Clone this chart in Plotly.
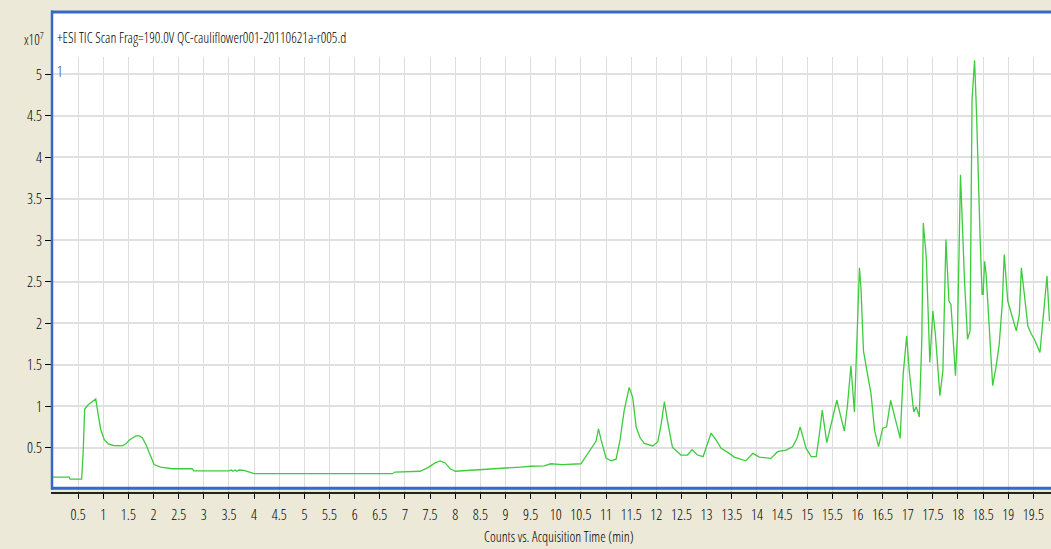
import plotly.graph_objects as go

# ---- data (intensity in units of 1e7 counts) ----
acq_time_min = [
    0.00, 0.32, 0.34, 0.57, 0.60, 0.63, 0.70, 0.78, 0.85, 0.90, 0.95, 1.02, 1.10, 1.20, 1.38,
    1.45, 1.51, 1.58, 1.65, 1.72, 1.78, 1.85, 1.93, 2.01, 2.14, 2.38, 2.77, 2.80, 3.50, 3.55,
    3.58, 3.62, 3.66, 3.70, 3.80, 3.97, 4.00, 6.75, 6.80, 7.30, 7.45, 7.60, 7.70, 7.80, 7.90,
    8.00, 8.30, 8.50, 8.80, 9.00, 9.30, 9.50, 9.77, 9.90, 10.13, 10.50, 10.60, 10.70, 10.80,
    10.85, 10.90, 11.00, 11.10, 11.20, 11.28, 11.36, 11.46, 11.53, 11.60, 11.68, 11.76, 11.93,
    12.03, 12.10, 12.16, 12.22, 12.32, 12.49, 12.62, 12.71, 12.82, 12.93, 13.00, 13.09, 13.19,
    13.29, 13.45, 13.55, 13.78, 13.92, 14.05, 14.28, 14.41, 14.58, 14.71, 14.80, 14.86, 14.93,
    14.98, 15.08, 15.18, 15.24, 15.30, 15.39, 15.48, 15.59, 15.66, 15.74, 15.80, 15.87, 15.94,
    16.04, 16.07, 16.12, 16.20, 16.27, 16.34, 16.42, 16.50, 16.58, 16.66, 16.74, 16.85, 16.91,
    16.98, 17.03, 17.12, 17.17, 17.23, 17.28, 17.31, 17.37, 17.40, 17.44, 17.50, 17.55, 17.64,
    17.70, 17.76, 17.82, 17.86, 17.95, 17.99, 18.05, 18.13, 18.19, 18.24, 18.28, 18.33, 18.37,
    18.44, 18.48, 18.50, 18.53, 18.56, 18.63, 18.69, 18.76, 18.82, 18.88, 18.92, 18.99, 19.09,
    19.16, 19.22, 19.26, 19.32, 19.39, 19.46, 19.52, 19.63, 19.72, 19.77, 19.82,
]
counts_x1e7 = [
    0.15, 0.15, 0.125, 0.125, 0.45, 0.97, 1.02, 1.06, 1.09, 0.90, 0.72, 0.60, 0.55, 0.53, 0.525,
    0.55, 0.59, 0.62, 0.645, 0.645, 0.62, 0.54, 0.42, 0.30, 0.27, 0.25, 0.25, 0.225, 0.225, 0.235,
    0.22, 0.235, 0.22, 0.235, 0.23, 0.19, 0.19, 0.19, 0.21, 0.22, 0.26, 0.32, 0.345, 0.32, 0.25,
    0.22, 0.23, 0.24, 0.25, 0.26, 0.27, 0.28, 0.285, 0.31, 0.30, 0.31, 0.40, 0.50, 0.58,
    0.73, 0.60, 0.38, 0.345, 0.365, 0.60, 0.95, 1.23, 1.11, 0.75, 0.62, 0.555, 0.525,
    0.575, 0.80, 1.06, 0.83, 0.51, 0.415, 0.415, 0.48, 0.415, 0.395, 0.52, 0.68, 0.595,
    0.495, 0.435, 0.39, 0.345, 0.435, 0.39, 0.375, 0.455, 0.475, 0.515, 0.62, 0.755, 0.62,
    0.495, 0.395, 0.395, 0.65, 0.955, 0.565, 0.795, 1.075, 0.90, 0.705, 1.00, 1.49, 0.935,
    2.67, 2.43, 1.67, 1.39, 1.155, 0.716, 0.516, 0.736, 0.755, 1.075, 0.875, 0.616, 1.39,
    1.85, 1.43, 0.935, 0.995, 0.875, 1.79, 3.21, 2.79, 2.11, 1.53, 2.15, 1.87, 1.13,
    1.43, 3.01, 2.27, 2.23, 1.37, 1.87, 3.79, 2.51, 1.81, 1.91, 4.70, 5.17, 4.51,
    3.03, 2.35, 2.35, 2.75, 2.59, 1.79, 1.25, 1.49, 1.75, 2.23, 2.83, 2.27, 2.07,
    1.91, 2.11, 2.67, 2.35, 1.97, 1.87, 1.81, 1.65, 2.19, 2.57, 2.03,
]
x_tick_vals = [i * 0.5 for i in range(1, 40)]
x_tick_text = [("%g" % v) for v in x_tick_vals]
y_tick_vals = [i * 0.5 for i in range(1, 11)]
y_tick_text = [("%g" % v) for v in y_tick_vals]

title_text = "+ESI TIC Scan Frag=190.0V QC-cauliflower001-20110621a-r005.d"
x_title = "Counts vs. Acquisition Time (min)"
scale_text = "x10<sup>7</sup>"

# ---- layout helpers (pixel -> paper) ----
W, H = 1051, 549
ML, MR, MT, MB = 53, 0, 57, 62
PW, PH = W - ML - MR, H - MT - MB


def xp(px):
    return (px - ML) / PW


def yp(py):
    return (H - MB - py) / PH


FONT = "Open Sans Condensed Light, Open Sans Condensed, DejaVu Sans Condensed, sans-serif"
BLUE = "#3768c8"
BEIGE = "#ece9d8"
TXT = "#000000"


def fnt(size, color=TXT):
    return dict(family=FONT, size=size, color=color, weight=300)


fig = go.Figure()
fig.add_trace(go.Scatter(
    x=acq_time_min, y=counts_x1e7, mode="lines",
    line=dict(color="#3ccc3c", width=1.3),
    showlegend=False, hoverinfo="x+y",
))

shapes = [
    dict(type="rect", xref="paper", yref="paper", x0=xp(51), x1=xp(1060), y0=yp(489), y1=yp(11),
         fillcolor="white", line=dict(width=0), layer="below"),
    dict(type="rect", xref="paper", yref="paper", x0=xp(40), x1=xp(1060), y0=yp(491.8), y1=yp(489.5),
         fillcolor=BEIGE, line=dict(width=0), layer="above"),
    dict(type="line", xref="paper", yref="paper", x0=xp(52), x1=xp(52), y0=yp(489.5), y1=yp(10.5),
         line=dict(color=BLUE, width=2.5), layer="above"),
    dict(type="line", xref="paper", yref="paper", x0=xp(51), x1=xp(1060), y0=yp(12), y1=yp(12),
         line=dict(color=BLUE, width=3), layer="above"),
    dict(type="line", xref="paper", yref="paper", x0=xp(51), x1=xp(1060), y0=yp(488.3), y1=yp(488.3),
         line=dict(color=BLUE, width=3), layer="above"),
    dict(type="line", xref="paper", yref="paper", x0=xp(51), x1=xp(1060), y0=yp(493), y1=yp(493),
         line=dict(color="#222222", width=2), layer="above"),
]

annotations = [
    dict(text=scale_text, xref="paper", yref="paper", x=xp(46), y=yp(39), xanchor="right",
         yanchor="middle", showarrow=False, font=fnt(14)),
    dict(text=title_text, xref="paper", yref="paper", x=xp(55), y=yp(38), xanchor="left",
         yanchor="middle", showarrow=False, font=fnt(14)),
    dict(text="1", xref="paper", yref="paper", x=xp(55), y=yp(72), xanchor="left",
         yanchor="middle", showarrow=False, font=fnt(14, "#333333")),
    dict(text=x_title, xref="paper", yref="paper", x=xp(559), y=yp(536), xanchor="center",
         yanchor="middle", showarrow=False, font=fnt(14)),
]

fig.update_layout(
    width=W, height=H,
    margin=dict(l=ML, r=MR, t=MT, b=MB, pad=0),
    paper_bgcolor=BEIGE, plot_bgcolor="white",
    shapes=shapes, annotations=annotations,
    font=fnt(14),
    xaxis=dict(
        range=[0, 19.85], tickmode="array", tickvals=x_tick_vals, ticktext=x_tick_text,
        ticks="outside", ticklen=11, tickwidth=1, tickcolor=TXT, ticklabelstandoff=3,
        showgrid=True, gridcolor="#dddddd", gridwidth=1, zeroline=False, showline=False,
        tickfont=fnt(15), fixedrange=True,
    ),
    yaxis=dict(
        range=[0.03, 5.21], tickmode="array", tickvals=y_tick_vals, ticktext=y_tick_text,
        ticks="outside", ticklen=7, tickwidth=1, tickcolor=TXT,
        showgrid=True, gridcolor="#e0e0e0", gridwidth=2, zeroline=False, showline=False,
        tickfont=fnt(15), fixedrange=True,
    ),
)

fig.write_html(
    "out.html",
    config={"displayModeBar": False},
    post_script="document.body.style.margin='0';document.body.style.background='#ece9d8';",
)
